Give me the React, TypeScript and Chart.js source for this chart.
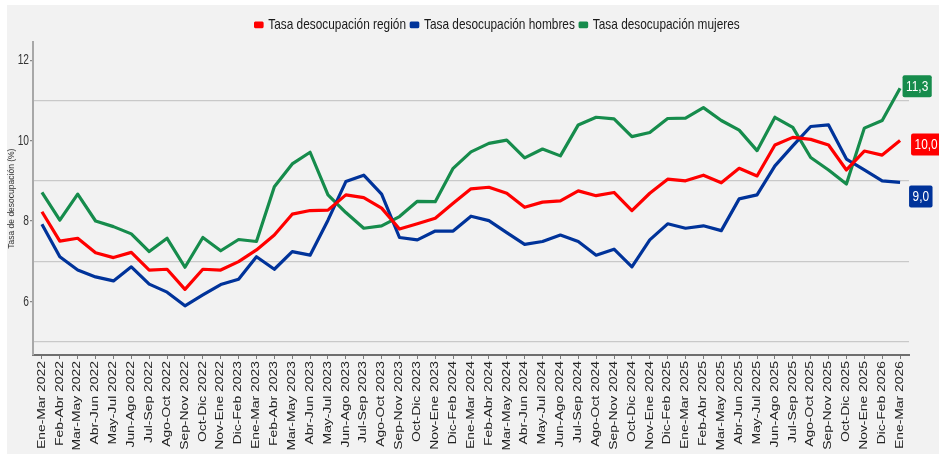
import { useEffect, useRef } from 'react';
import { Chart, registerables } from 'chart.js';

Chart.register(...registerables);

const categories = [
  'Ene-Mar 2022', 'Feb-Abr 2022', 'Mar-May 2022', 'Abr-Jun 2022', 'May-Jul 2022', 'Jun-Ago 2022',
  'Jul-Sep 2022', 'Ago-Oct 2022', 'Sep-Nov 2022', 'Oct-Dic 2022', 'Nov-Ene 2022', 'Dic-Feb 2023',
  'Ene-Mar 2023', 'Feb-Abr 2023', 'Mar-May 2023', 'Abr-Jun 2023', 'May-Jul 2023', 'Jun-Ago 2023',
  'Jul-Sep 2023', 'Ago-Oct 2023', 'Sep-Nov 2023', 'Oct-Dic 2023', 'Nov-Ene 2023', 'Dic-Feb 2024',
  'Ene-Mar 2024', 'Feb-Abr 2024', 'Mar-May 2024', 'Abr-Jun 2024', 'May-Jul 2024', 'Jun-Ago 2024',
  'Jul-Sep 2024', 'Ago-Oct 2024', 'Sep-Nov 2024', 'Oct-Dic 2024', 'Nov-Ene 2024', 'Dic-Feb 2025',
  'Ene-Mar 2025', 'Feb-Abr 2025', 'Mar-May 2025', 'Abr-Jun 2025', 'May-Jul 2025', 'Jun-Ago 2025',
  'Jul-Sep 2025', 'Ago-Oct 2025', 'Sep-Nov 2025', 'Oct-Dic 2025', 'Nov-Ene 2025', 'Dic-Feb 2026',
  'Ene-Mar 2026',
];

const regionRate = [
  8.23, 7.5, 7.57, 7.21, 7.09, 7.22, 6.78, 6.8, 6.3, 6.8, 6.78, 6.99,
  7.28, 7.65, 8.17, 8.26, 8.27, 8.65, 8.58, 8.32, 7.8, 7.93, 8.07, 8.44,
  8.8, 8.84, 8.69, 8.34, 8.47, 8.5, 8.75, 8.63, 8.71, 8.26, 8.69, 9.04,
  9.0, 9.14, 8.95, 9.31, 9.12, 9.89, 10.08, 10.03, 9.89, 9.27, 9.74, 9.64,
  10.0,
];

const menRate = [
  7.92, 7.11, 6.78, 6.61, 6.51, 6.86, 6.43, 6.23, 5.89, 6.16, 6.42, 6.55,
  7.11, 6.8, 7.24, 7.15, 8.02, 8.98, 9.14, 8.67, 7.59, 7.53, 7.75, 7.75,
  8.12, 8.01, 7.71, 7.42, 7.49, 7.65, 7.49, 7.15, 7.3, 6.86, 7.53, 7.93,
  7.82, 7.88, 7.76, 8.55, 8.65, 9.37, 9.87, 10.35, 10.39, 9.54, 9.27, 9.0,
  8.96,
];

const womenRate = [
  8.71, 8.02, 8.67, 8.0, 7.86, 7.68, 7.24, 7.57, 6.85, 7.59, 7.26, 7.54,
  7.49, 8.85, 9.42, 9.71, 8.65, 8.21, 7.82, 7.88, 8.11, 8.49, 8.48, 9.31,
  9.72, 9.93, 10.01, 9.57, 9.79, 9.62, 10.39, 10.58, 10.54, 10.1, 10.2, 10.55,
  10.56, 10.82, 10.5, 10.26, 9.75, 10.58, 10.33, 9.58, 9.27, 8.92, 10.31, 10.5,
  11.3,
];

const seriesNames = [
  'Tasa desocupación región',
  'Tasa desocupación hombres',
  'Tasa desocupación mujeres',
];

const yTickValues = [6, 8, 10, 12];
const yGridValues = [5, 7, 9, 11];
const yAxisTitle = 'Tasa de desocupación (%)';

const RED = '#FF0000';
const BLUE = '#00339A';
const GREEN = '#168C4C';

const SANS = '"Liberation Sans", Arial, sans-serif';
// horizontal compression applied to horizontal text (reference uses a narrow face)
const NARROW_X = 0.79;
const YTICK_X = 0.68;
const XLABEL_STRETCH = 1.39;
const LEGEND_CENTER_X = 490.5;

// label placement offsets (style only), relative to the last point
const labelOffsets = [
  { dx: 11, dy: 4 },
  { dx: 9, dy: 14 },
  { dx: 2.5, dy: -2 },
];

const endLabels = {
  id: 'endLabels',
  afterDatasetsDraw(chart: any) {
    const ctx = chart.ctx;
    chart.data.datasets.forEach((ds: any, i: number) => {
      const meta = chart.getDatasetMeta(i);
      const pt = meta.data[meta.data.length - 1];
      const val = ds.data[ds.data.length - 1];
      const text = Number(val).toFixed(1).replace('.', ',');
      ctx.save();
      ctx.font = `15px ${SANS}`;
      const tw = ctx.measureText(text).width * NARROW_X;
      const w = tw + 7;
      const h = 22;
      const x = pt.x + labelOffsets[i].dx;
      const y = pt.y + labelOffsets[i].dy - h / 2;
      ctx.fillStyle = ds.borderColor;
      ctx.beginPath();
      if (ctx.roundRect) ctx.roundRect(x, y, w, h, 2);
      else ctx.rect(x, y, w, h);
      ctx.fill();
      ctx.fillStyle = '#ffffff';
      ctx.textAlign = 'left';
      ctx.textBaseline = 'middle';
      ctx.translate(x + 3.5, y + h / 2 + 0.5);
      ctx.scale(NARROW_X, 1);
      ctx.fillText(text, 0, 0);
      ctx.restore();
    });
  },
};

const textShaping = {
  id: 'textShaping',
  afterLayout(chart: any) {
    const ctx = chart.ctx;
    const l = chart.legend;
    if (l) {
      const dx = LEGEND_CENTER_X - (l.left + l.right) / 2;
      l.left += dx;
      l.right += dx;
      if (!l.__wrapped) {
        const orig = l.draw.bind(l);
        l.draw = (...args: any[]) => {
          ctx.save();
          ctx.translate(LEGEND_CENTER_X, 0);
          ctx.scale(NARROW_X, 1);
          ctx.translate(-LEGEND_CENTER_X, 0);
          orig(...args);
          ctx.restore();
        };
        l.__wrapped = true;
      }
    }
    const ys = chart.scales.y;
    if (ys && !ys.__wrapped) {
      const origY = ys.drawLabels.bind(ys);
      ys.drawLabels = (...args: any[]) => {
        const ax = ys.right - 4;
        ctx.save();
        ctx.translate(ax, 0);
        ctx.scale(YTICK_X, 1);
        ctx.translate(-ax, 0);
        origY(...args);
        ctx.restore();
      };
      ys.__wrapped = true;
    }
    const xs = chart.scales.x;
    if (xs && !xs.__wrapped) {
      const origX = xs.drawLabels.bind(xs);
      xs.drawLabels = (...args: any[]) => {
        const ay = xs.top + 6;
        ctx.save();
        ctx.translate(0, ay);
        ctx.scale(1, XLABEL_STRETCH);
        ctx.translate(0, -ay);
        origX(...args);
        ctx.restore();
      };
      xs.__wrapped = true;
    }
  },
};

export default function App() {
  const canvasRef = useRef<HTMLCanvasElement | null>(null);

  useEffect(() => {
    document.body.style.margin = '0';
    const canvas = canvasRef.current;
    if (!canvas) return;
    const chart = new Chart(canvas, {
      type: 'line',
      data: {
        labels: categories,
        datasets: [
          { label: seriesNames[0], data: regionRate, borderColor: RED, backgroundColor: RED },
          { label: seriesNames[1], data: menRate, borderColor: BLUE, backgroundColor: BLUE },
          { label: seriesNames[2], data: womenRate, borderColor: GREEN, backgroundColor: GREEN },
        ].map((d) => ({
          ...d,
          borderWidth: 3.2,
          pointRadius: 0,
          pointHoverRadius: 0,
          tension: 0,
          borderJoinStyle: 'round' as const,
          fill: false,
        })),
      },
      options: {
        responsive: false,
        animation: false,
        devicePixelRatio: 1,
        layout: { padding: { top: 6, right: 30, left: 0, bottom: 0 } },
        plugins: {
          tooltip: { enabled: false },
          legend: {
            position: 'top',
            align: 'center',
            labels: {
              boxWidth: 9,
              boxHeight: 3.5,
              padding: 6.3,
              color: '#1a1a1a',
              font: { family: SANS, size: 15 },
            },
          },
        },
        scales: {
          x: {
            type: 'category',
            offset: true,
            grid: {
              display: true,
              drawOnChartArea: false,
              drawTicks: true,
              tickLength: 4,
              tickColor: '#7a7a7a',
            },
            border: { display: true, color: '#6e6e6e', width: 2 },
            ticks: {
              autoSkip: false,
              minRotation: 90,
              maxRotation: 90,
              padding: 2,
              color: '#222222',
              font: { family: SANS, size: 10 },
            },
            afterFit(scale: any) {
              scale.height = 99;
            },
          },
          y: {
            type: 'linear',
            min: 4.667,
            max: 12.445,
            grid: {
              drawOnChartArea: true,
              drawTicks: true,
              tickLength: 3,
              lineWidth: 1.2,
              color: (c: any) => (yGridValues.includes(c.tick?.value) ? '#c9c9c9' : 'rgba(0,0,0,0)'),
              tickColor: (c: any) => (yTickValues.includes(c.tick?.value) ? '#8a8a8a' : 'rgba(0,0,0,0)'),
            },
            border: { display: true, color: '#a8a8a8', width: 2 },
            ticks: {
              stepSize: 1,
              includeBounds: false,
              padding: 1,
              color: '#333333',
              font: { family: SANS, size: 15 },
              callback: (v: any) => (yTickValues.includes(Number(v)) ? String(v) : ''),
            },
            title: {
              display: true,
              text: yAxisTitle,
              color: '#333333',
              padding: { top: 0, bottom: 0 },
              font: { family: SANS, size: 8.5 },
            },
            afterFit(scale: any) {
              scale.width = 26;
            },
          },
        },
      },
      plugins: [endLabels, textShaping],
    } as any);
    return () => chart.destroy();
  }, []);

  return (
    <div style={{ padding: '5px 0 0 7px', background: '#ffffff', width: 932, height: 449 }}>
      <canvas
        ref={canvasRef}
        width={932}
        height={449}
        style={{ display: 'block', background: '#f2f2f2', width: 932, height: 449 }}
      />
    </div>
  );
}
